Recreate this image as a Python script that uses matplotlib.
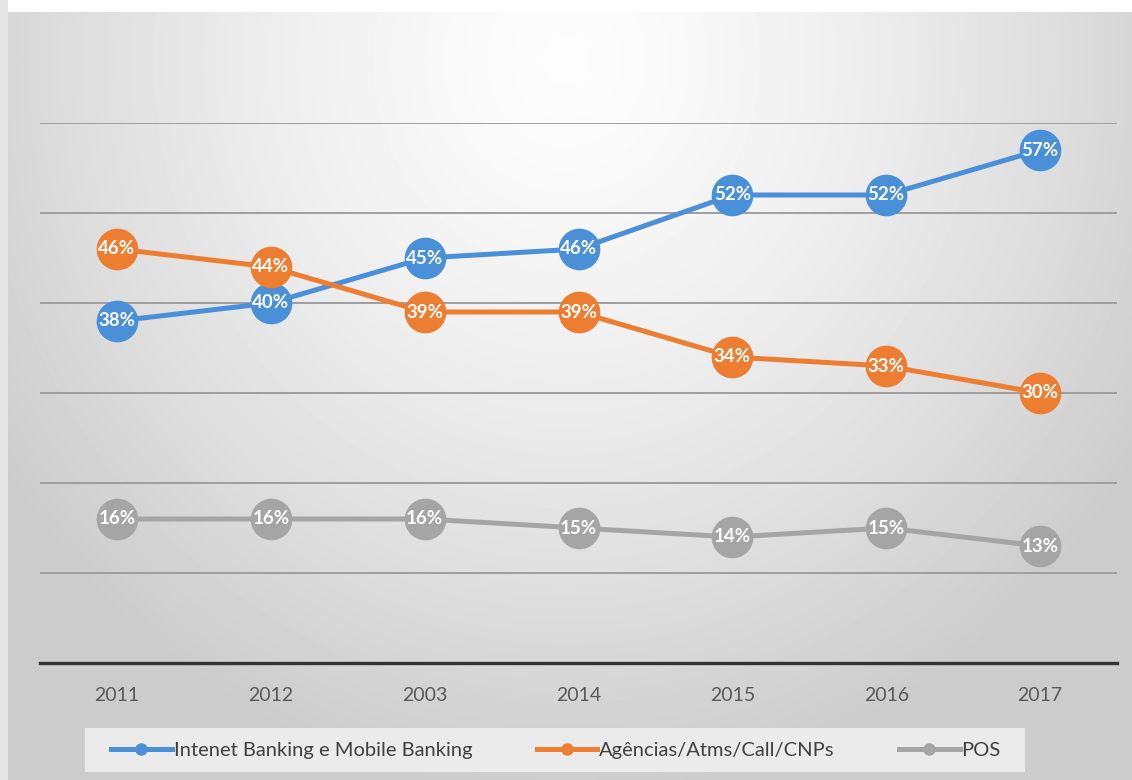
import numpy as np
import matplotlib
matplotlib.use("Agg")
import matplotlib.pyplot as plt
from matplotlib.lines import Line2D
from matplotlib.patches import Rectangle

plt.rcParams['font.family'] = ['Lato', 'DejaVu Sans']

# chart data
years = ['2011', '2012', '2003', '2014', '2015', '2016', '2017']
internet = [38, 40, 45, 46, 52, 52, 57]
agencias = [46, 44, 39, 39, 34, 33, 30]
pos = [16, 16, 16, 15, 14, 15, 13]
series_names = ['Intenet Banking e Mobile Banking', 'Agências/Atms/Call/CNPs', 'POS']
colors = ['#4A90D9', '#ED7D31', '#A5A5A5']

W, H = 1132, 780
fig = plt.figure(figsize=(W / 100, H / 100), dpi=100)

# background: soft radial gradient like the source chart area
bg = fig.add_axes([0, 0, 1, 1], zorder=-10)
yy, xx = np.mgrid[0:H, 0:W]
r = np.sqrt(((xx - 566) / 700.0) ** 2 + ((yy - 60) / 760.0) ** 2)
shade = np.clip(0.99 - 0.2 * r ** 1.4, 0.80, 1.0)
shade[:12, :] = 1.0
shade[:, :8] = 0.9
bg.imshow(shade, cmap='gray', vmin=0, vmax=1, aspect='auto', interpolation='bilinear')
bg.axis('off')

ax = fig.add_axes([40 / W, 1 - 663 / H, 1077 / W, 540 / H])
ax.patch.set_alpha(0)
x = np.arange(len(years))

for vals, c in zip([internet, agencias, pos], colors):
    ax.plot(x, np.array(vals) / 100, color=c, lw=3.6, marker='o', ms=29,
            mfc=c, mec=c, zorder=3, solid_capstyle='round')
    for xi, v in zip(x, vals):
        ax.annotate(f'{v}%', (xi, v / 100), ha='center', va='center',
                    color='white', fontsize=13.5, fontweight='bold', zorder=5)

ax.set_xlim(-0.5, len(years) - 0.5)
ax.set_ylim(0, 0.6)
ax.set_yticks(np.arange(0.1, 0.61, 0.1))
ax.yaxis.grid(True, color='#9E9E9E', lw=1.4)
ax.set_axisbelow(True)
ax.tick_params(axis='y', left=False, labelleft=False)
ax.tick_params(axis='x', bottom=False, labelsize=14, labelcolor='#595959', pad=14)
ax.set_xticks(x)
ax.set_xticklabels(years)
for s in ['top', 'right', 'left']:
    ax.spines[s].set_visible(False)
ax.spines['bottom'].set_color('#333333')
ax.spines['bottom'].set_linewidth(2.4)

# legend box
fig.patches.append(Rectangle((85 / W, 1 - 772 / H), 940 / W, 44 / H,
                             transform=fig.transFigure, facecolor='#EBEBEB',
                             edgecolor='none', zorder=0))
handles = [Line2D([0], [0], color=c, lw=3.6, marker='o', ms=8, mfc=c, mec=c)
           for c in colors]
leg = fig.legend(handles, series_names, loc='center', ncol=3,
                 bbox_to_anchor=(556 / W, 1 - 750 / H), frameon=False,
                 fontsize=14.5, handlelength=3.0, handletextpad=0.1,
                 columnspacing=3.2)
for t in leg.get_texts():
    t.set_color('#404040')

fig.savefig('out.png', dpi=100)
